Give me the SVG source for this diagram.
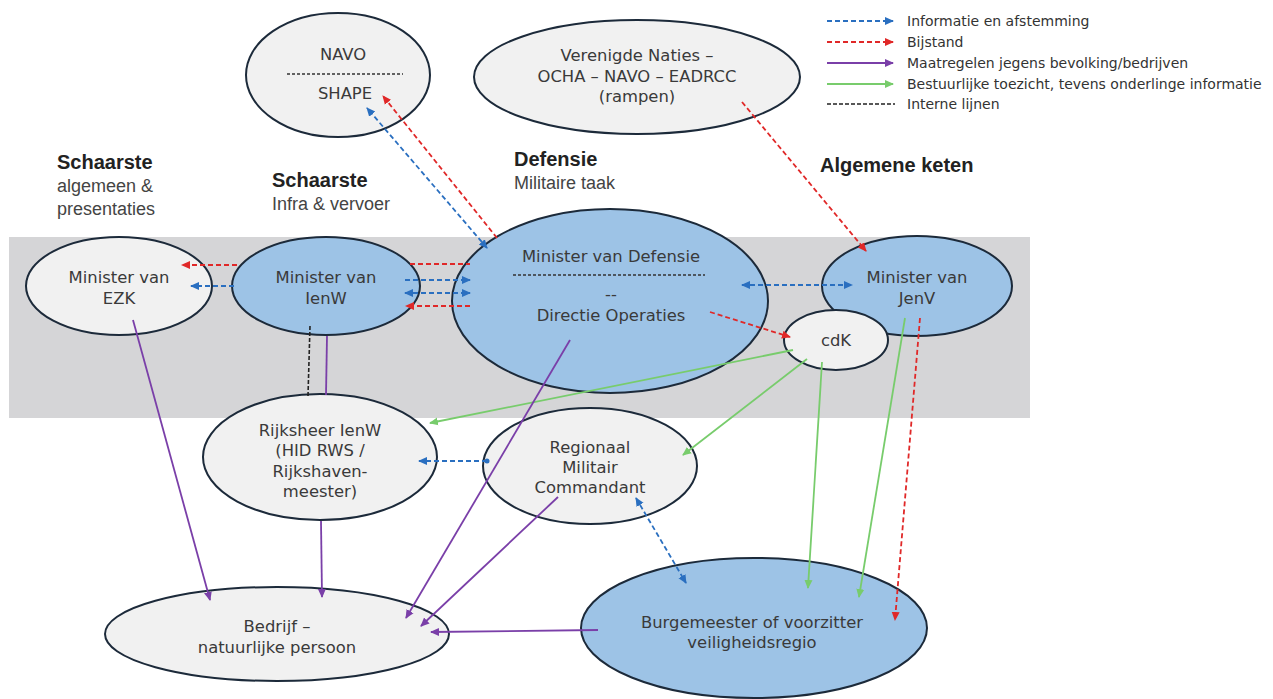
<svg xmlns="http://www.w3.org/2000/svg" width="1273" height="699" viewBox="0 0 1273 699">
<style>
.node{stroke:#1c2a3a;stroke-width:2}
.blue{fill:#9dc3e6}
.grey{fill:#f1f1f1}
.t{font-family:"DejaVu Sans",Verdana,sans-serif;font-size:16.4px;fill:#3a3a3a;text-anchor:middle}
.h{font-family:"Liberation Sans",Arial,sans-serif;font-size:20px;font-weight:bold;fill:#222}
.s{font-family:"Liberation Sans",Arial,sans-serif;font-size:18px;fill:#444}
.lg{font-family:"DejaVu Sans",Verdana,sans-serif;font-size:14px;fill:#333}
.sep{stroke:#333;stroke-width:1.3;stroke-dasharray:3 2}
.cb{stroke:#2a6fc0;stroke-width:1.8;stroke-dasharray:5 3;fill:none}
.cr{stroke:#e02828;stroke-width:1.8;stroke-dasharray:5 3;fill:none}
.cp{stroke:#7a3fa8;stroke-width:1.8;fill:none}
.cg{stroke:#78cc6c;stroke-width:1.8;fill:none}
.ck{stroke:#222;stroke-width:1.6;stroke-dasharray:4 2;fill:none}
</style>
<defs>
<marker id="ab" markerWidth="10" markerHeight="10" refX="8" refY="5" orient="auto-start-reverse" markerUnits="userSpaceOnUse"><path d="M0,1 L9,5 L0,9 z" fill="#2a6fc0"/></marker>
<marker id="ar" markerWidth="10" markerHeight="10" refX="8" refY="5" orient="auto-start-reverse" markerUnits="userSpaceOnUse"><path d="M0,1 L9,5 L0,9 z" fill="#e02828"/></marker>
<marker id="ap" markerWidth="10" markerHeight="10" refX="8" refY="5" orient="auto" markerUnits="userSpaceOnUse"><path d="M0,1 L9,5 L0,9 z" fill="#7a3fa8"/></marker>
<marker id="ag" markerWidth="10" markerHeight="10" refX="8" refY="5" orient="auto" markerUnits="userSpaceOnUse"><path d="M0,1 L9,5 L0,9 z" fill="#78cc6c"/></marker>
</defs>
<rect width="1273" height="699" fill="#fff"/>
<rect x="9" y="237" width="1021" height="181" fill="#d5d5d7"/>

<g id="legend">
<line x1="827" y1="21" x2="893" y2="21" class="cb" marker-end="url(#ab)"/>
<line x1="827" y1="42" x2="893" y2="42" class="cr" marker-end="url(#ar)"/>
<line x1="827" y1="63" x2="893" y2="63" class="cp" stroke-width="2.5" marker-end="url(#ap)"/>
<line x1="827" y1="84" x2="893" y2="84" class="cg" marker-end="url(#ag)"/>
<line x1="827" y1="104" x2="895" y2="104" class="ck"/>
<text class="lg" x="907" y="26">Informatie en afstemming</text>
<text class="lg" x="907" y="47">Bijstand</text>
<text class="lg" x="907" y="68">Maatregelen jegens bevolking/bedrijven</text>
<text class="lg" x="907" y="89">Bestuurlijke toezicht, tevens onderlinge informatie</text>
<text class="lg" x="907" y="109">Interne lijnen</text>
</g>

<g id="headings">
<text class="h" x="57" y="169">Schaarste</text>
<text class="s" x="57" y="192">algemeen &amp;</text>
<text class="s" x="57" y="215">presentaties</text>
<text class="h" x="272" y="187">Schaarste</text>
<text class="s" x="272" y="210">Infra &amp; vervoer</text>
<text class="h" x="514" y="166">Defensie</text>
<text class="s" x="514" y="189">Militaire taak</text>
<text class="h" x="820" y="172">Algemene keten</text>
</g>

<g id="navo">
<ellipse class="node grey" cx="338" cy="75" rx="92" ry="62"/>
<text class="t" x="343" y="60">NAVO</text>
<line class="sep" x1="287" y1="74" x2="403" y2="74"/>
<text class="t" x="345" y="99">SHAPE</text>
</g>
<g id="vn">
<ellipse class="node grey" cx="637" cy="77" rx="163" ry="57"/>
<text class="t" x="637" y="61">Verenigde Naties –</text>
<text class="t" x="637" y="82">OCHA – NAVO – EADRCC</text>
<text class="t" x="637" y="102">(rampen)</text>
</g>
<g id="ezk">
<ellipse class="node grey" cx="119" cy="286" rx="93" ry="49"/>
<text class="t" x="119" y="283">Minister van</text>
<text class="t" x="119" y="304">EZK</text>
</g>
<g id="ienw">
<ellipse class="node blue" cx="326" cy="286" rx="94" ry="49"/>
<text class="t" x="326" y="283">Minister van</text>
<text class="t" x="326" y="304">IenW</text>
</g>
<g id="defensie">
<ellipse class="node blue" cx="610" cy="301" rx="158" ry="92"/>
<text class="t" x="611" y="262">Minister van Defensie</text>
<line class="sep" x1="513" y1="275" x2="705" y2="275"/>
<text class="t" x="611" y="300">--</text>
<text class="t" x="611" y="321">Directie Operaties</text>
</g>
<g id="jenv">
<ellipse class="node blue" cx="917" cy="286" rx="95" ry="50"/>
<text class="t" x="917" y="283">Minister van</text>
<text class="t" x="917" y="304">JenV</text>
</g>
<g id="cdk">
<ellipse class="node grey" cx="836" cy="340" rx="52" ry="30"/>
<text class="t" x="836" y="346">cdK</text>
</g>
<g id="rijksheer">
<ellipse class="node grey" cx="320" cy="457" rx="117" ry="63"/>
<text class="t" x="320" y="436">Rijksheer IenW</text>
<text class="t" x="320" y="456">(HID RWS /</text>
<text class="t" x="320" y="477">Rijkshaven-</text>
<text class="t" x="320" y="497">meester)</text>
</g>
<g id="rmc">
<ellipse class="node grey" cx="590" cy="466" rx="107" ry="58"/>
<text class="t" x="590" y="453">Regionaal</text>
<text class="t" x="590" y="473">Militair</text>
<text class="t" x="590" y="493">Commandant</text>
</g>
<g id="bedrijf">
<ellipse class="node grey" cx="277" cy="634" rx="172" ry="47"/>
<text class="t" x="277" y="632">Bedrijf –</text>
<text class="t" x="277" y="653">natuurlijke persoon</text>
</g>
<g id="burgemeester">
<ellipse class="node blue" cx="754" cy="628" rx="173" ry="70"/>
<text class="t" x="752" y="628">Burgemeester of voorzitter</text>
<text class="t" x="752" y="648">veiligheidsregio</text>
</g>

<g id="connectors">
<line class="cb" x1="487" y1="248" x2="367" y2="108" marker-start="url(#ab)" marker-end="url(#ab)"/>
<line class="cr" x1="497" y1="238" x2="383" y2="96" marker-end="url(#ar)"/>
<line class="cr" x1="742" y1="102" x2="866" y2="251" marker-end="url(#ar)"/>
<line class="cr" x1="237" y1="265" x2="182" y2="265" marker-end="url(#ar)"/>
<line class="cb" x1="234" y1="286" x2="191" y2="286" marker-end="url(#ab)"/>
<line class="cr" x1="410" y1="264" x2="470" y2="264"/>
<line class="cb" x1="405" y1="280" x2="470" y2="280" marker-end="url(#ab)"/>
<line class="cb" x1="405" y1="293" x2="470" y2="293" marker-start="url(#ab)" marker-end="url(#ab)"/>
<line class="cr" x1="470" y1="306" x2="406" y2="306" marker-end="url(#ar)"/>
<line class="cb" x1="742" y1="285" x2="852" y2="285" marker-start="url(#ab)" marker-end="url(#ab)"/>
<line class="cr" x1="710" y1="312" x2="790" y2="337" marker-end="url(#ar)"/>
<line class="cr" x1="920" y1="318" x2="895" y2="620" marker-end="url(#ar)"/>
<line class="cg" x1="905" y1="318" x2="859" y2="597" marker-end="url(#ag)"/>
<line class="cg" x1="822" y1="362" x2="808" y2="588" marker-end="url(#ag)"/>
<line class="cg" x1="807" y1="359" x2="683" y2="455" marker-end="url(#ag)"/>
<line class="cg" x1="793" y1="350" x2="430" y2="423" marker-end="url(#ag)"/>
<line class="cb" x1="487" y1="461" x2="419" y2="461" marker-end="url(#ab)"/>
<circle cx="487" cy="461" r="2.5" fill="#2a6fc0"/>
<line class="cb" x1="636" y1="498" x2="686" y2="583" marker-start="url(#ab)" marker-end="url(#ab)"/>
<line class="ck" x1="310" y1="326" x2="308" y2="396"/>
<line class="cp" x1="327" y1="336" x2="326" y2="395"/>
<line class="cp" x1="321" y1="521" x2="322" y2="597" marker-end="url(#ap)"/>
<line class="cp" x1="133" y1="320" x2="210" y2="600" marker-end="url(#ap)"/>
<line class="cp" x1="570" y1="340" x2="406" y2="618" marker-end="url(#ap)"/>
<line class="cp" x1="558" y1="497" x2="421" y2="626" marker-end="url(#ap)"/>
<line class="cp" x1="598" y1="630" x2="431" y2="632" stroke-width="3" marker-end="url(#ap)"/>
</g>
</svg>
